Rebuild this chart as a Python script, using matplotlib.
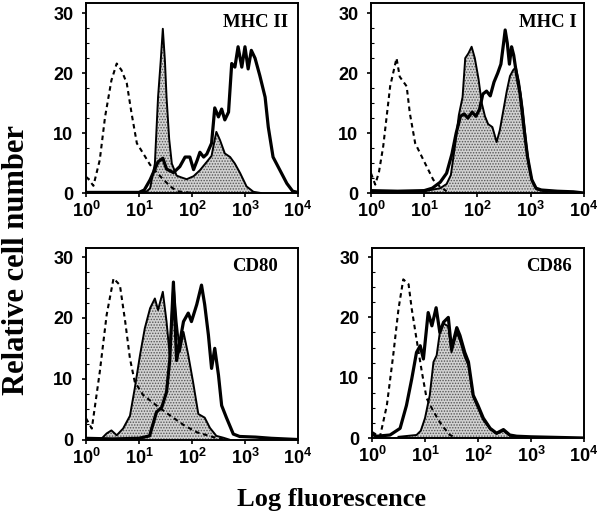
import numpy as np
import matplotlib
matplotlib.use("Agg")
import matplotlib.pyplot as plt
from matplotlib.ticker import FixedLocator, LogLocator, MultipleLocator, NullFormatter

plt.rcParams['mathtext.fontset'] = 'custom'
plt.rcParams['mathtext.rm'] = 'Liberation Sans:bold'
plt.rcParams['mathtext.it'] = 'Liberation Sans:bold'
plt.rcParams['mathtext.bf'] = 'Liberation Sans:bold'
plt.rcParams['hatch.linewidth'] = 0.7

# ---- data (log10 of fluorescence, relative cell number) ----
mhc2_iso_logx = [0, 0.04, 0.14, 0.26, 0.36, 0.48, 0.58, 0.67, 0.77, 0.86, 0.96, 1.08, 1.21, 1.4, 1.59, 1.72, 2.0]
mhc2_iso_y = [2.7, 2.4, 1.2, 5.5, 12.7, 18.8, 21.6, 20.5, 18.3, 13.3, 8.3, 6.6, 4.7, 2.8, 1.1, 0.3, 0]
mhc2_fill_logx = [1.05, 1.15, 1.21, 1.3, 1.36, 1.41, 1.45, 1.49, 1.52, 1.57, 1.62, 1.71, 1.8, 1.9, 2.03, 2.15,
                  2.28, 2.37, 2.42, 2.46, 2.53, 2.62, 2.72, 2.81, 2.91, 3.03, 3.16, 3.3]
mhc2_fill_y = [0, 0.3, 0.8, 4.9, 16, 22, 27.4, 22, 16, 9, 4.9, 2.9, 2.6, 2.3, 2.8, 3.8,
               5.2, 6.2, 8.5, 10.2, 8.8, 6.6, 6.0, 4.9, 3.3, 1.1, 0.2, 0]
mhc2_solid_logx = [0, 1.0, 1.1, 1.21, 1.3, 1.36, 1.45, 1.52, 1.65, 1.77, 1.87, 1.96, 2.03, 2.1, 2.15, 2.22,
                   2.28, 2.37, 2.43, 2.5, 2.56, 2.62, 2.69, 2.75, 2.81, 2.87, 2.94, 3.0, 3.06, 3.12, 3.19,
                   3.28, 3.38, 3.44, 3.53, 3.66, 3.79, 3.9, 4.0]
mhc2_solid_y = [0.1, 0.1, 0.5, 2.2, 4.0, 5.2, 5.8, 4.0, 3.4, 4.4, 6.0, 6.0, 3.9, 5.5, 6.8, 6.0,
                6.5, 8.3, 14.2, 12.7, 14.0, 12.2, 13.5, 21.6, 21.0, 24.4, 21.0, 24.4, 20.7, 23.8, 22.5,
                19.6, 16.0, 11.0, 6.0, 3.8, 1.6, 0.3, 0.1]

mhc1_iso_logx = [0, 0.08, 0.15, 0.23, 0.36, 0.48, 0.54, 0.67, 0.73, 0.83, 0.98, 1.17, 1.3, 1.42]
mhc1_iso_y = [3.3, 1.4, 3.5, 7.8, 17.8, 22.5, 19.4, 17.8, 13.3, 8.3, 5.6, 2.2, 1.0, 0.3]
mhc1_fill_logx = [1.0, 1.3, 1.42, 1.5, 1.58, 1.65, 1.72, 1.77, 1.83, 1.89, 1.95, 2.02, 2.08, 2.14, 2.2,
                  2.28, 2.36, 2.42, 2.48, 2.55, 2.61, 2.67, 2.72, 2.78, 2.85, 2.92, 2.99, 3.05, 3.11, 3.3]
mhc1_fill_y = [0.3, 0.8, 1.5, 3.0, 8, 13, 16, 22.5, 23.3, 24.4, 22.5, 19, 15, 12.8, 11.5,
               11, 8.5, 10.5, 13.5, 17, 19.5, 20.5, 21, 18.5, 14, 7.8, 3.3, 1.5, 0.6, 0.2]
mhc1_solid_logx = [0, 0.5, 1.0, 1.15, 1.3, 1.42, 1.52, 1.6, 1.68, 1.75, 1.82, 1.9, 1.97, 2.04, 2.1, 2.17,
                   2.24, 2.31, 2.38, 2.44, 2.49, 2.52, 2.56, 2.6, 2.64, 2.68, 2.73, 2.8, 2.87, 2.94, 3.02,
                   3.1, 3.2, 3.5, 3.8, 4.0]
mhc1_solid_y = [0.4, 0.3, 0.4, 0.8, 1.8, 3.3, 6.5, 10, 12.8, 13.2, 12.5, 13.5, 12.8, 14, 16.5, 17,
                16.2, 18.5, 20, 21.5, 25, 27.2, 25, 21.5, 24.4, 23, 20, 16.5, 11, 6, 2.2,
                0.8, 0.5, 0.3, 0.2, 0]

cd80_iso_logx = [0, 0.11, 0.26, 0.39, 0.52, 0.64, 0.74, 0.83, 0.92, 1.08, 1.33, 1.58, 1.84, 2.09, 2.4, 2.6]
cd80_iso_y = [3.5, 1.8, 11.1, 20.5, 26.5, 25.4, 19.4, 13.3, 9.5, 7.3, 5.6, 4.0, 2.4, 1.2, 0.4, 0]
cd80_fill_logx = [0.3, 0.39, 0.48, 0.58, 0.7, 0.83, 0.92, 1.02, 1.11, 1.21, 1.3, 1.36, 1.45, 1.52, 1.58,
                  1.65, 1.71, 1.77, 1.84, 1.93, 2.02, 2.12, 2.24, 2.34, 2.46, 2.59, 2.7]
cd80_fill_y = [0.2, 1.0, 1.5, 0.7, 1.8, 3.9, 8.4, 13.9, 18.3, 21.6, 23.2, 21.3, 24.3, 19.4, 13.9,
               25.9, 19.4, 14.4, 17.7, 13.9, 9.5, 4.2, 3.6, 1.9, 0.6, 0.3, 0]
cd80_solid_logx = [0, 0.5, 1.0, 1.2, 1.33, 1.43, 1.52, 1.58, 1.65, 1.71, 1.77, 1.84, 1.93, 1.99, 2.09,
                   2.18, 2.24, 2.31, 2.37, 2.43, 2.5, 2.56, 2.65, 2.78, 2.9, 3.2, 3.5, 4.0]
cd80_solid_y = [0.2, 0.1, 0.2, 0.6, 4.5, 5.3, 7.8, 13, 25.9, 13, 16, 19.4, 20.8, 19.4, 22.2,
                25.4, 22.2, 17.2, 11.7, 15, 10.6, 5.6, 3.6, 0.9, 0.5, 0.4, 0.2, 0]

cd86_iso_logx = [0, 0.15, 0.28, 0.4, 0.5, 0.59, 0.69, 0.75, 0.84, 0.94, 1.03, 1.16, 1.31, 1.47, 1.6]
cd86_iso_y = [1.0, 0.2, 5.4, 13.7, 21.4, 26.3, 25.5, 21.4, 16.4, 11.0, 6.6, 4.4, 2.2, 0.5, 0]
cd86_fill_logx = [0.5, 0.84, 0.92, 1.0, 1.09, 1.16, 1.22, 1.28, 1.35, 1.44, 1.5, 1.6, 1.66, 1.75, 1.82,
                  1.91, 2.0, 2.1, 2.23, 2.35, 2.48, 2.6, 2.73, 2.9]
cd86_fill_y = [0.2, 0.5, 1.2, 3.3, 7.1, 12.6, 13.7, 17.5, 19.0, 18.5, 14.2, 17.5, 16.2, 13.5, 12.0,
               6.8, 5.0, 3.0, 1.5, 0.7, 1.2, 0.4, 0.2, 0]
cd86_solid_logx = [0, 0.09, 0.34, 0.53, 0.65, 0.75, 0.84, 0.91, 0.97, 1.06, 1.13, 1.21, 1.28, 1.35, 1.44,
                   1.5, 1.6, 1.66, 1.75, 1.82, 1.91, 2.0, 2.1, 2.23, 2.35, 2.48, 2.6, 2.73, 3.0, 4.0]
cd86_solid_y = [0.6, 0.3, 0.5, 1.6, 5.4, 9.8, 14.2, 15.3, 13.1, 20.8, 18.6, 21.6, 17.5, 19.2, 20.0,
                14.8, 18.3, 17.0, 14.2, 12.6, 7.1, 5.4, 3.3, 1.6, 0.8, 1.4, 0.5, 0.3, 0.2, 0]

panel_names = ["MHC II", "MHC I", "CD80", "CD86"]
panel_data = [
    (mhc2_iso_logx, mhc2_iso_y, mhc2_fill_logx, mhc2_fill_y, mhc2_solid_logx, mhc2_solid_y),
    (mhc1_iso_logx, mhc1_iso_y, mhc1_fill_logx, mhc1_fill_y, mhc1_solid_logx, mhc1_solid_y),
    (cd80_iso_logx, cd80_iso_y, cd80_fill_logx, cd80_fill_y, cd80_solid_logx, cd80_solid_y),
    (cd86_iso_logx, cd86_iso_y, cd86_fill_logx, cd86_fill_y, cd86_solid_logx, cd86_solid_y),
]

# axes rectangles in figure fraction (left, bottom, width, height)
rects = [(0.1433, 0.6274, 0.3533, 0.3668),
         (0.6183, 0.6274, 0.3550, 0.3668),
         (0.1433, 0.1515, 0.3533, 0.3697),
         (0.6200, 0.1544, 0.3533, 0.3668)]
label_pos = [(0.953, 0.895), (0.967, 0.895), (0.906, 0.905), (0.943, 0.905)]
ytops = [31.7, 31.7, 31.5, 31.5]

fig = plt.figure(figsize=(6.0, 5.18), dpi=100)

for i in range(4):
    ax = fig.add_axes(rects[i])
    ilx, iy, flx, fy, slx, sy = panel_data[i]
    fx = 10 ** np.array(flx)
    ax.fill_between(fx, fy, 0, facecolor='#d2d2d2', edgecolor='#555555',
                    hatch='......', linewidth=0, zorder=1)
    ax.plot(fx, fy, color='black', lw=1.4, zorder=3)
    ax.plot(10 ** np.array(ilx), iy, color='black', lw=1.5,
            linestyle=(0, (2.2, 1.8)), zorder=2)
    ax.plot(10 ** np.array(slx), sy, color='black', lw=2.3, zorder=4)

    ax.set_xscale('log')
    ax.set_xlim(1, 1e4)
    ax.set_ylim(0, ytops[i])
    ax.xaxis.set_major_locator(FixedLocator([1, 10, 100, 1000, 10000]))
    ax.xaxis.set_minor_locator(LogLocator(base=10, subs=np.arange(2, 10)))
    ax.xaxis.set_minor_formatter(NullFormatter())
    ax.set_xticklabels([r'$10^{0}$', r'$10^{1}$', r'$10^{2}$', r'$10^{3}$', r'$10^{4}$'])
    ax.set_yticks([0, 10, 20, 30])
    ax.yaxis.set_minor_locator(MultipleLocator(2.5))
    ax.tick_params(axis='both', which='major', direction='out', length=3, width=1.2,
                   labelsize=13)
    ax.tick_params(axis='x', which='major', pad=3)
    ax.tick_params(axis='y', which='major', pad=6)
    ax.tick_params(axis='both', which='minor', direction='in', length=2, width=0.8)
    for lab in ax.get_yticklabels():
        lab.set_fontfamily('Liberation Sans')
        lab.set_fontweight('bold')
    for sp in ax.spines.values():
        sp.set_linewidth(1.4)
    ax.text(label_pos[i][0], label_pos[i][1], panel_names[i], transform=ax.transAxes,
            ha='right', va='center', fontsize=13.5, fontweight='bold',
            family='Liberation Serif')

fig.text(0.027, 0.498, "Relative cell number", rotation=90, ha='center', va='center',
         fontsize=22, fontweight='bold', family='Liberation Serif')
fig.text(0.553, 0.036, "Log fluorescence", ha='center', va='center',
         fontsize=19, fontweight='bold', family='Liberation Serif')

fig.savefig("out.png", dpi=100)
